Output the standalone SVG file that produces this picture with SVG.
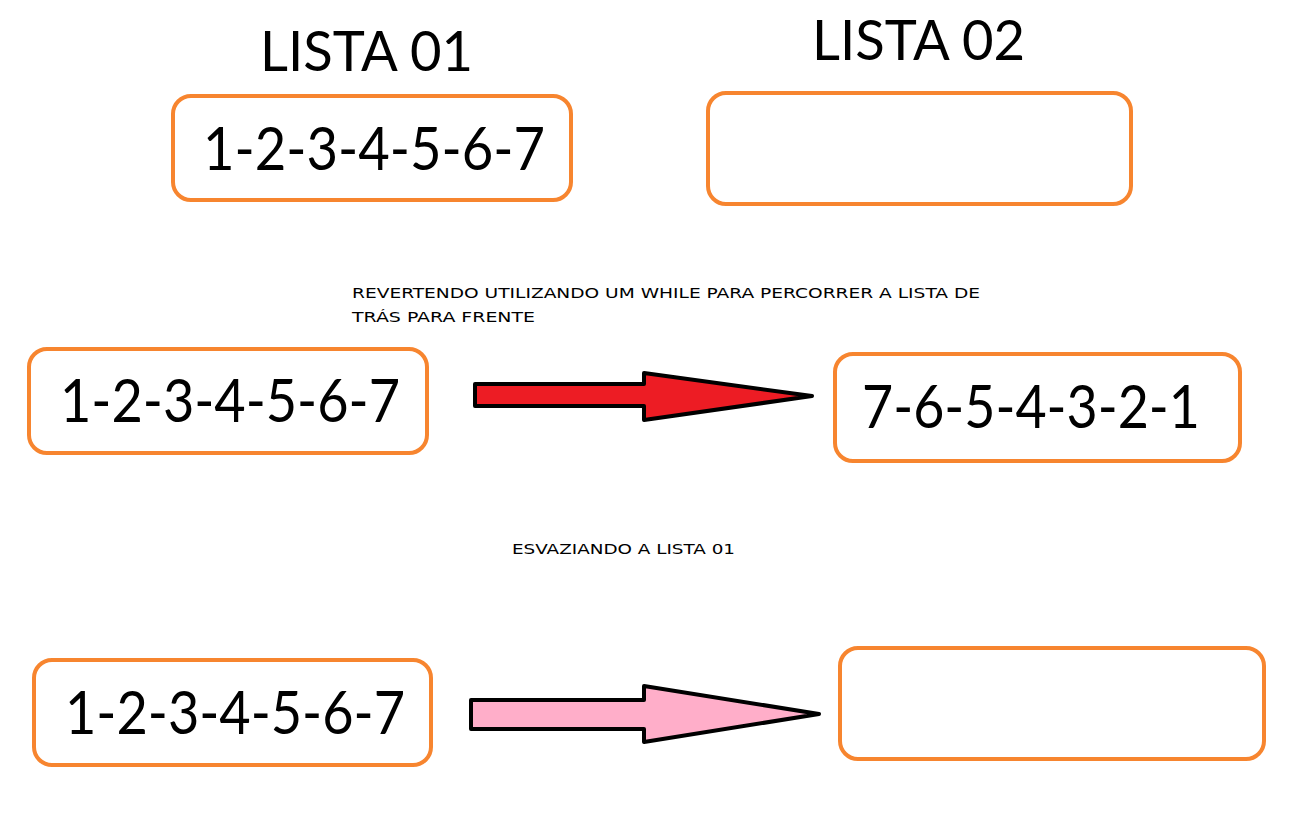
<svg xmlns="http://www.w3.org/2000/svg" width="1294" height="838" viewBox="0 0 1294 838">
<style>
.box{fill:#fff;stroke:#F7852F;stroke-width:4}
.big{font-family:Lato,"Open Sans","Liberation Sans",sans-serif;font-size:60px;fill:#000}
.title{font-family:Lato,"Open Sans","Liberation Sans",sans-serif;font-size:56px;fill:#000}
.note{font-family:"Comic Sans MS","DejaVu Sans",sans-serif;font-size:14px;fill:#000}
.arrow{stroke:#000;stroke-width:4;stroke-linejoin:round}
</style>
<rect width="1294" height="838" fill="#fff"/>
<g id="title1"><text class="title" x="260" y="71" textLength="213" lengthAdjust="spacingAndGlyphs">LISTA 01</text></g>
<g id="title2"><text class="title" x="812" y="60" textLength="213" lengthAdjust="spacingAndGlyphs">LISTA 02</text></g>
<g id="lista01"><rect class="box" x="173" y="96" width="398" height="104" rx="18"/><text class="big" x="203" y="170" textLength="342" lengthAdjust="spacingAndGlyphs">1-2-3-4-5-6-7</text></g>
<g id="lista02"><rect class="box" x="708" y="93" width="423" height="111" rx="18"/></g>
<g id="note1"><text class="note" x="352" y="298" textLength="628" lengthAdjust="spacingAndGlyphs">REVERTENDO UTILIZANDO UM WHILE PARA PERCORRER A LISTA DE</text><text class="note" x="352" y="322" textLength="183" lengthAdjust="spacingAndGlyphs">TRÁS PARA FRENTE</text></g>
<g id="row2left"><rect class="box" x="29" y="349" width="398" height="104" rx="18"/><text class="big" x="60" y="422" textLength="340" lengthAdjust="spacingAndGlyphs">1-2-3-4-5-6-7</text></g>
<g id="row2right"><rect class="box" x="835" y="354" width="405" height="107" rx="18"/><text class="big" x="862" y="428" textLength="338" lengthAdjust="spacingAndGlyphs">7-6-5-4-3-2-1</text></g>
<g id="note2"><text class="note" x="512" y="554" textLength="223" lengthAdjust="spacingAndGlyphs">ESVAZIANDO A LISTA 01</text></g>
<g id="row3left"><rect class="box" x="34" y="660" width="397" height="105" rx="18"/><text class="big" x="65" y="734" textLength="340" lengthAdjust="spacingAndGlyphs">1-2-3-4-5-6-7</text></g>
<g id="row3right"><rect class="box" x="840" y="648" width="424" height="111" rx="18"/></g>
<g id="connectors">
<polygon class="arrow" fill="#ED1C24" points="475,384 644,384 644,373 812,396 644,420 644,406 475,406"/>
<polygon class="arrow" fill="#FFAEC9" points="471,700 644,700 644,686 819,714 644,742 644,729 471,729"/>
</g>
</svg>
